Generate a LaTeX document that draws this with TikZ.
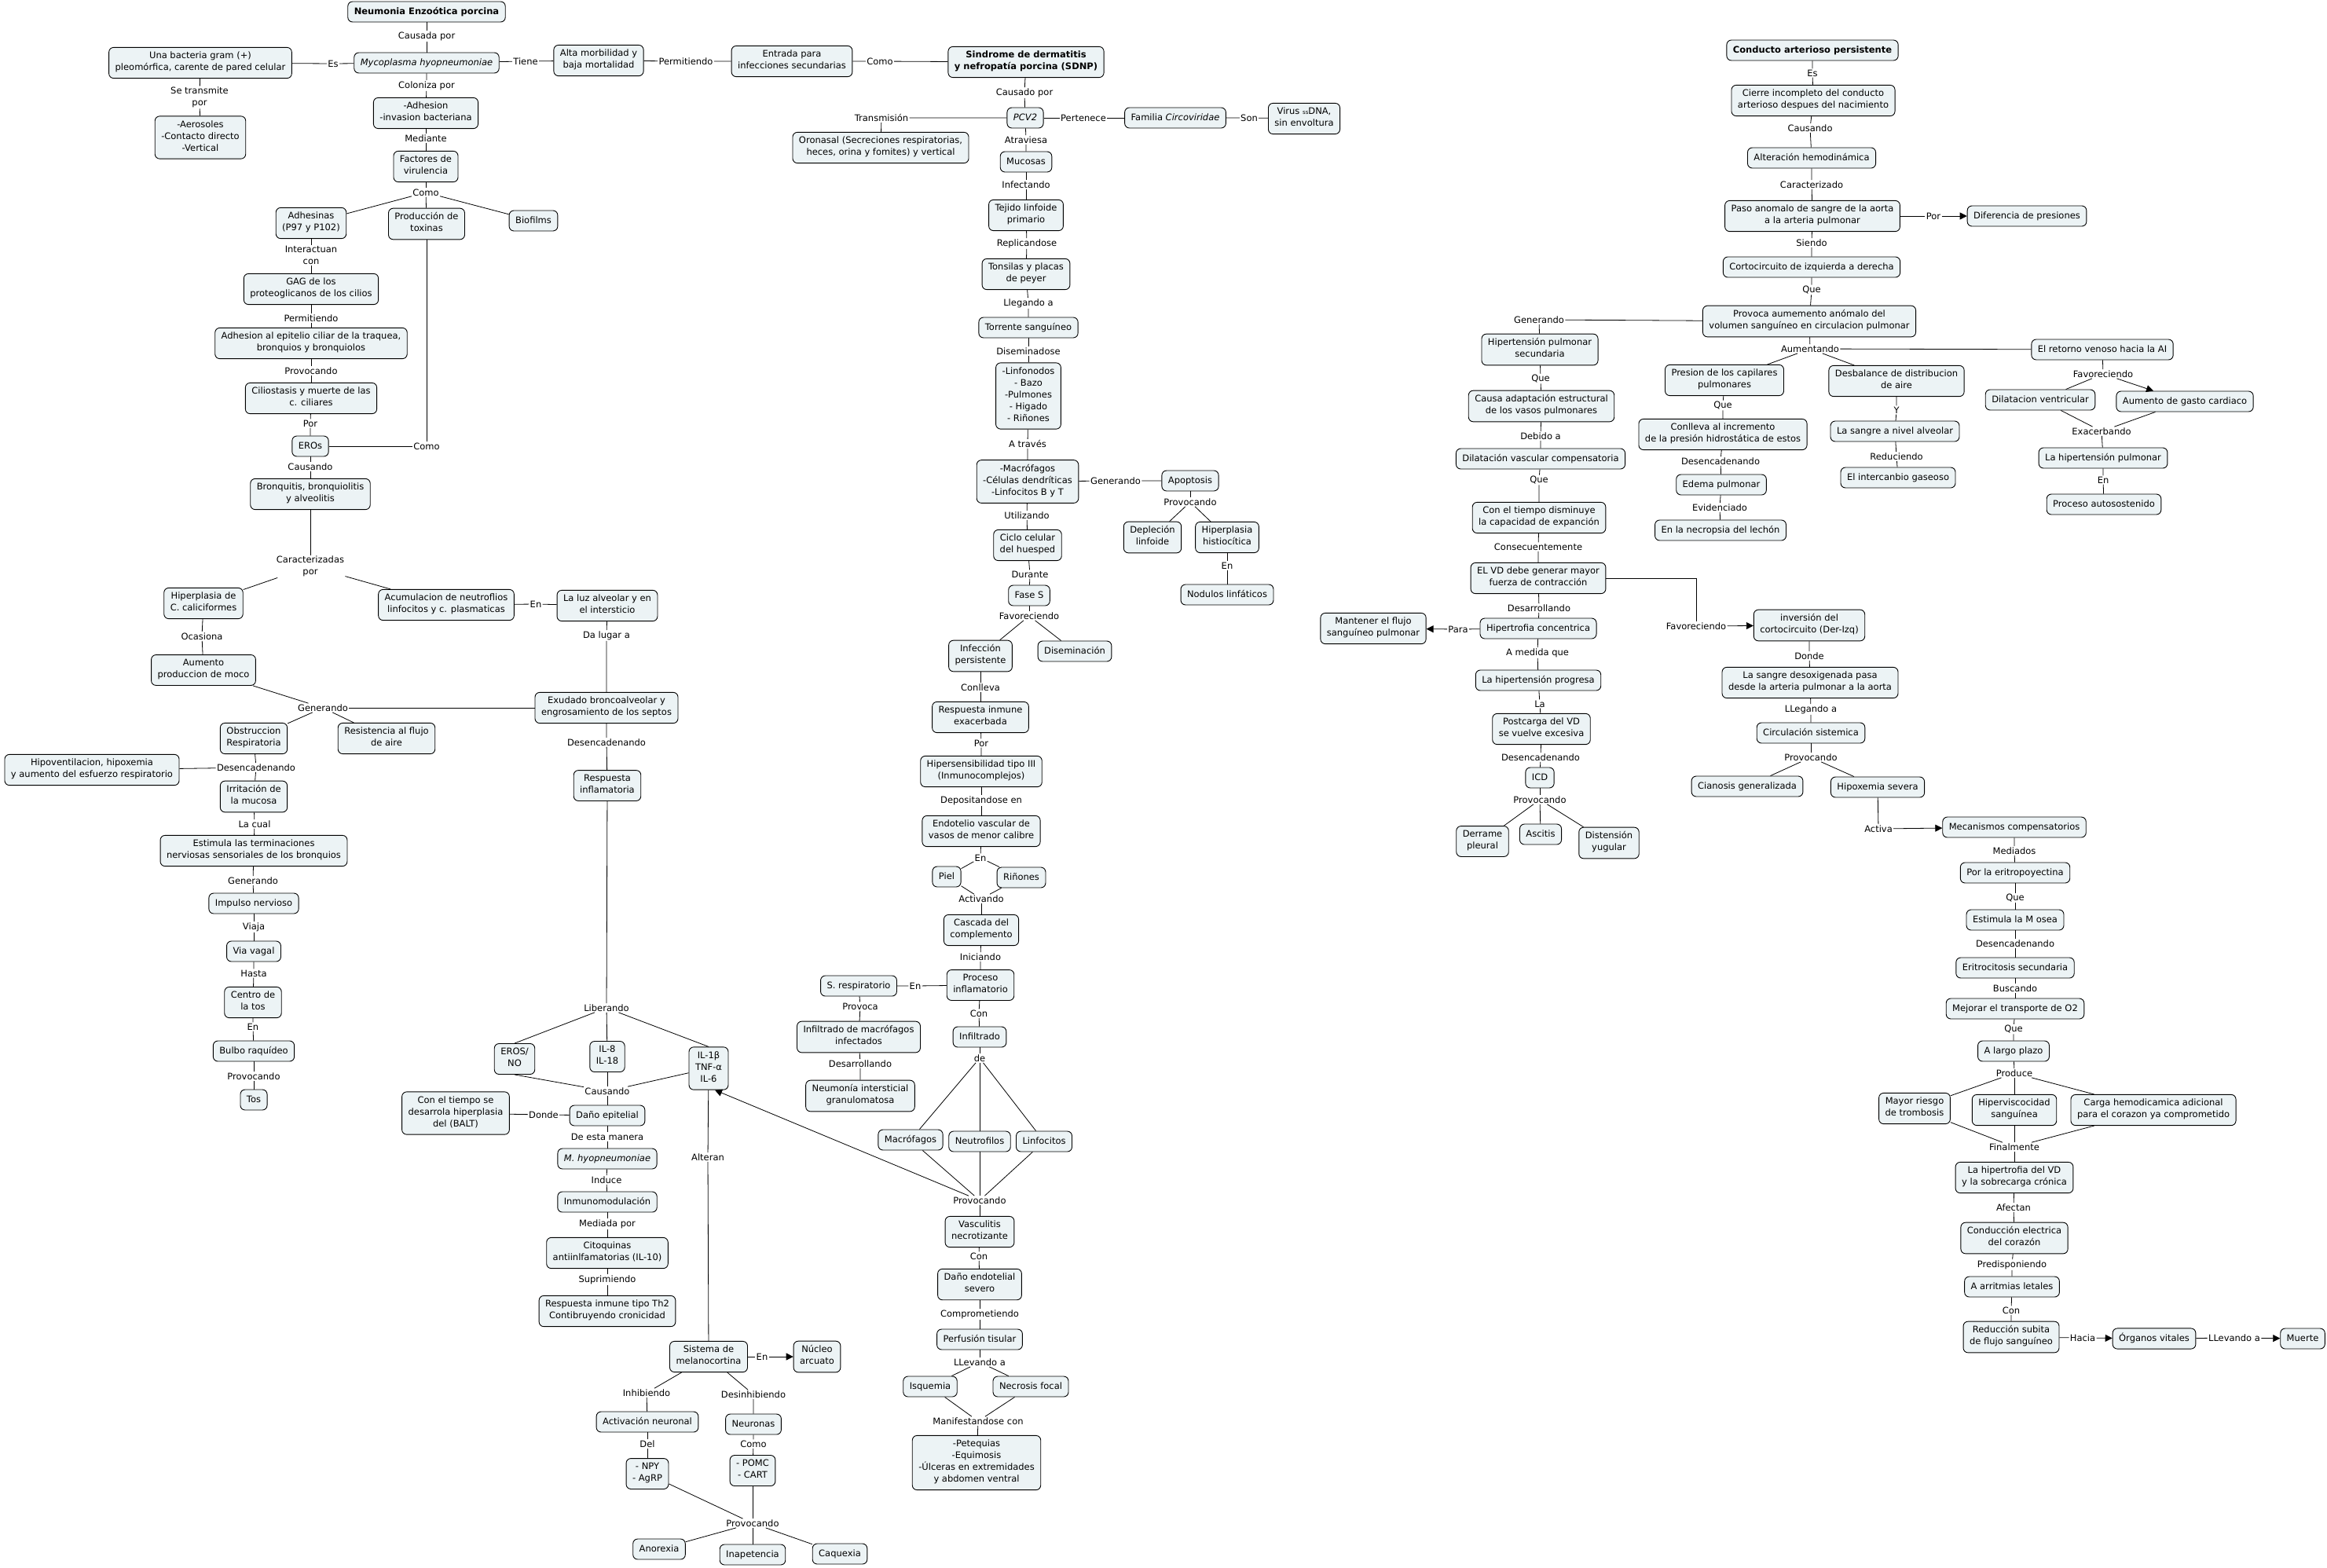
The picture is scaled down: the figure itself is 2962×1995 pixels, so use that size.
\documentclass[tikz,border=0pt]{standalone}
\usepackage{fontspec}
\setmainfont{DejaVu Sans}
\usetikzlibrary{arrows.meta}
\definecolor{cmfill}{RGB}{236,243,245}
\newcommand\cmsize{\fontsize{11.5}{15}\selectfont}

\begin{document}
\begin{tikzpicture}[x=1pt,y=-1pt,line width=0.8pt,
    cbox/.style={draw=black,line width=0.9pt,fill=cmfill,rounded corners=6pt,
      align=center,font=\cmsize,inner xsep=8pt,inner ysep=5.5pt,
      execute at begin node=\strut,execute at end node=\strut},
    ctitle/.style={cbox,font=\cmsize\bfseries},
    clink/.style={fill=white,align=center,font=\cmsize,inner sep=1pt},
    cmarrow/.style={-{Triangle[length=9pt,width=9pt]}}]
  \useasboundingbox (0,0) rectangle (2962,1995);

  \node[ctitle] (nep) at (543,15) {Neumonia Enzoótica porcina};
  \node[clink] (lcausada) at (543,46) {Causada por};
  \node[cbox] (myco) at (543,80) {\textit{Mycoplasma hyopneumoniae}};
  \node[clink] (les) at (424,81) {Es};
  \node[cbox] (bact) at (255,80) {Una bacteria gram (+)\\pleomórfica, carente de pared celular};
  \node[clink] (ltransm) at (254,124) {Se transmite\\por};
  \node[cbox] (aeros) at (255,175) {-Aerosoles\\-Contacto directo\\-Vertical};
  \node[clink] (ltiene) at (669,78) {Tiene};
  \node[cbox] (alta) at (762,77) {Alta morbilidad y\\baja mortalidad};
  \node[clink] (lpermit) at (873,78) {Permitiendo};
  \node[cbox] (entr) at (1008,78) {Entrada para\\infecciones secundarias};
  \node[clink] (lcomo1) at (1120,78) {Como};
  \node[clink] (lcoloniza) at (543,109) {Coloniza por};
  \node[cbox] (adh) at (542,144) {-Adhesion\\-invasion bacteriana};
  \node[clink] (lmediante) at (542,176) {Mediante};
  \node[cbox] (fact) at (542,212) {Factores de\\virulencia};
  \node[clink] (lcomo2) at (542,245) {Como};
  \node[cbox] (adhes) at (396,284) {Adhesinas\\(P97 y P102)};
  \node[cbox] (toxi) at (543,285) {Producción de\\toxinas};
  \node[cbox] (biof) at (679,281) {Biofilms};
  \node[clink] (linteract) at (396,325) {Interactuan\\con};
  \node[cbox] (gag) at (396,368) {GAG de los\\proteoglicanos de los cilios};
  \node[clink] (lpermit2) at (396,405) {Permitiendo};
  \node[cbox] (epit) at (396,437) {Adhesion al epitelio ciliar de la traquea,\\bronquios y bronquiolos};
  \node[clink] (lprov1) at (396,472) {Provocando};
  \node[cbox] (cilio) at (396,507) {Ciliostasis y muerte de las\\c. ciliares};
  \node[clink] (lpor1) at (395,539) {Por};
  \node[cbox] (eros1) at (395,568) {EROs};
  \node[clink] (lcomo3) at (543,568) {Como};
  \node[clink] (lcausa2) at (395,594) {Causando};
  \node[cbox] (bronq) at (395,629) {Bronquitis, bronquiolitis\\y alveolitis};
  \node[clink] (lcarac) at (395,721) {Caracterizadas\\por};
  \node[cbox] (hiperc) at (259,768) {Hiperplasia de\\C. caliciformes};
  \node[cbox] (acum) at (568,770) {Acumulacion de neutroflios\\linfocitos y c. plasmaticas};
  \node[clink] (len1) at (682,769) {En};
  \node[cbox] (luz) at (773,771) {La luz alveolar y en\\el intersticio};
  \node[clink] (ldalugar) at (772,809) {Da lugar a};
  \node[clink] (locasiona) at (257,810) {Ocasiona};
  \node[cbox] (moco) at (259,853) {Aumento\\produccion de moco};
  \node[clink] (lgen1) at (411,901) {Generando};
  \node[cbox] (obst) at (323,940) {Obstruccion\\Respiratoria};
  \node[cbox] (resis) at (492,940) {Resistencia al flujo\\de aire};
  \node[cbox] (exud) at (772,901) {Exudado broncoalveolar y\\engrosamiento de los septos};
  \node[clink] (ldesen1) at (326,977) {Desencadenando};
  \node[cbox] (hipov) at (117,980) {Hipoventilacion, hipoxemia\\y aumento del esfuerzo respiratorio};
  \node[cbox] (irrit) at (323,1014) {Irritación de\\la mucosa};
  \node[clink] (llacual) at (324,1049) {La cual};
  \node[cbox] (estim) at (323,1083) {Estimula las terminaciones\\nerviosas sensoriales de los bronquios};
  \node[clink] (lgen2) at (322,1121) {Generando};
  \node[cbox] (impul) at (323,1150) {Impulso nervioso};
  \node[clink] (lviaja) at (323,1180) {Viaja};
  \node[cbox] (vagal) at (323,1211) {Via vagal};
  \node[clink] (lhasta) at (323,1239) {Hasta};
  \node[cbox] (centro) at (322,1276) {Centro de\\la tos};
  \node[clink] (len2) at (322,1307) {En};
  \node[cbox] (bulbo) at (323,1338) {Bulbo raquídeo};
  \node[clink] (lprov2) at (323,1370) {Provocando};
  \node[cbox] (tos) at (323,1400) {Tos};
  \node[clink] (ldesen2) at (772,945) {Desencadenando};
  \node[cbox] (respinf) at (773,1000) {Respuesta\\inflamatoria};
  \node[clink] (llib) at (772,1283) {Liberando};
  \node[cbox] (erosno) at (655,1348) {EROS/\\NO};
  \node[cbox] (il8) at (773,1345) {IL-8\\IL-18};
  \node[cbox] (il1) at (902,1360) {IL-1β\\TNF-α\\IL-6};
  \node[clink] (lcaus3) at (773,1389) {Causando};
  \node[cbox] (danoep) at (773,1420) {Daño epitelial};
  \node[clink] (ldonde) at (692,1419) {Donde};
  \node[cbox] (balt) at (580,1417) {Con el tiempo se\\desarrola hiperplasia\\del (BALT)};
  \node[clink] (ldeesta) at (773,1447) {De esta manera};
  \node[cbox] (mhyo) at (773,1475) {\textit{M. hyopneumoniae}};
  \node[clink] (linduce) at (772,1502) {Induce};
  \node[cbox] (inmuno) at (773,1530) {Inmunomodulación};
  \node[clink] (lmedpor) at (773,1558) {Mediada por};
  \node[cbox] (citoq) at (773,1595) {Citoquinas\\antiinlfamatorias (IL-10)};
  \node[clink] (lsupr) at (773,1629) {Suprimiendo};
  \node[cbox] (th2) at (773,1669) {Respuesta inmune tipo Th2\\Contibruyendo cronicidad};
  \node[clink] (lalteran) at (901,1473) {Alteran};
  \node[cbox] (melano) at (902,1727) {Sistema de\\melanocortina};
  \node[clink] (len3) at (970,1727) {En};
  \node[cbox] (arcu) at (1040,1727) {Núcleo\\arcuato};
  \node[clink] (linhib) at (823,1773) {Inhibiendo};
  \node[clink] (ldesinh) at (959,1775) {Desinhibiendo};
  \node[cbox] (activ) at (824,1810) {Activación neuronal};
  \node[cbox] (neur) at (959,1813) {Neuronas};
  \node[clink] (ldel) at (824,1838) {Del};
  \node[clink] (lcomo4) at (959,1838) {Como};
  \node[cbox] (npy) at (824,1876) {- NPY\\- AgRP};
  \node[cbox] (pomc) at (958,1872) {- POMC\\- CART};
  \node[clink] (lprov3) at (958,1939) {Provocando};
  \node[cbox] (anor) at (839,1972) {Anorexia};
  \node[cbox] (inap) at (958,1979) {Inapetencia};
  \node[cbox] (caqu) at (1069,1978) {Caquexia};

  \node[ctitle] (sdnp) at (1306,79) {Sindrome de dermatitis\\y nefropatía porcina (SDNP)};
  \node[clink] (lcausado) at (1304,118) {Causado por};
  \node[cbox] (pcv2) at (1305,150) {\textit{PCV2}};
  \node[clink] (ltransm2) at (1122,150) {Transmisión};
  \node[cbox] (orona) at (1121,188) {Oronasal (Secreciones respiratorias,\\heces, orina y fomites) y vertical};
  \node[clink] (lpert) at (1379,150) {Pertenece};
  \node[cbox] (famil) at (1496,150) {Familia \textit{Circoviridae}};
  \node[clink] (lson) at (1590,150) {Son};
  \node[cbox] (virus) at (1660,151) {Virus {\fontsize{7}{8}\selectfont ss}DNA,\\sin envoltura};
  \node[clink] (latrav) at (1306,178) {Atraviesa};
  \node[cbox] (mucos) at (1306,206) {Mucosas};
  \node[clink] (linfect) at (1306,235) {Infectando};
  \node[cbox] (tejid) at (1306,274) {Tejido linfoide\\primario};
  \node[clink] (lreplic) at (1307,310) {Replicandose};
  \node[cbox] (tonsi) at (1306,349) {Tonsilas y placas\\de peyer};
  \node[clink] (lllegando) at (1309,386) {Llegando a};
  \node[cbox] (torre) at (1309,417) {Torrente sanguíneo};
  \node[clink] (ldisem) at (1309,447) {Diseminadose};
  \node[cbox] (linfo) at (1309,504) {-Linfonodos\\- Bazo\\-Pulmones\\- Higado\\- Riñones};
  \node[clink] (latraves) at (1308,565) {A través};
  \node[cbox] (macro) at (1308,613) {-Macrófagos\\-Células dendríticas\\-Linfocitos B y T};
  \node[clink] (lgen3) at (1420,612) {Generando};
  \node[cbox] (apopt) at (1515,612) {Apoptosis};
  \node[clink] (lprov4) at (1515,639) {Provocando};
  \node[cbox] (deple) at (1467,684) {Depleción\\linfoide};
  \node[cbox] (histi) at (1562,684) {Hiperplasia\\histiocítica};
  \node[clink] (len4) at (1562,720) {En};
  \node[cbox] (nodul) at (1562,757) {Nodulos linfáticos};
  \node[clink] (lutil) at (1307,656) {Utilizando};
  \node[cbox] (ciclo) at (1308,694) {Ciclo celular\\del huesped};
  \node[clink] (ldurante) at (1311,731) {Durante};
  \node[cbox] (fases) at (1310,758) {Fase S};
  \node[clink] (lfavo1) at (1310,784) {Favoreciendo};
  \node[cbox] (infper) at (1248,835) {Infección\\persistente};
  \node[cbox] (disem) at (1368,829) {Diseminación};
  \node[clink] (lconlleva) at (1248,875) {Conlleva};
  \node[cbox] (respex) at (1248,913) {Respuesta inmune\\exacerbada};
  \node[clink] (lpor2) at (1249,946) {Por};
  \node[cbox] (hipers) at (1249,982) {Hipersensibilidad tipo III\\(Inmunocomplejos)};
  \node[clink] (ldeposit) at (1249,1019) {Depositandose en};
  \node[cbox] (endot) at (1249,1058) {Endotelio vascular de\\vasos de menor calibre};
  \node[clink] (len5) at (1248,1092) {En};
  \node[cbox] (piel) at (1205,1116) {Piel};
  \node[cbox] (rinon) at (1300,1117) {Riñones};
  \node[clink] (lactiv) at (1249,1144) {Activando};
  \node[cbox] (casca) at (1249,1184) {Cascada del\\complemento};
  \node[clink] (linicia) at (1248,1218) {Iniciando};
  \node[cbox] (procinf) at (1248,1254) {Proceso\\inflamatorio};
  \node[clink] (len6) at (1165,1255) {En};
  \node[cbox] (sresp) at (1093,1255) {S. respiratorio};
  \node[clink] (lprovoca) at (1095,1281) {Provoca};
  \node[cbox] (infmac) at (1093,1320) {Infiltrado de macrófagos\\infectados};
  \node[clink] (ldesarr) at (1095,1354) {Desarrollando};
  \node[cbox] (neuint) at (1095,1395) {Neumonía intersticial\\granulomatosa};
  \node[clink] (lcon1) at (1246,1290) {Con};
  \node[cbox] (infil) at (1247,1320) {Infiltrado};
  \node[clink] (lde) at (1247,1347) {de};
  \node[cbox] (macf) at (1159,1451) {Macrófagos};
  \node[cbox] (neutr) at (1247,1453) {Neutrofilos};
  \node[cbox] (linfc) at (1329,1453) {Linfocitos};
  \node[clink] (lprov5) at (1247,1528) {Provocando};
  \node[cbox] (vascu) at (1247,1568) {Vasculitis\\necrotizante};
  \node[clink] (lcon2) at (1246,1599) {Con};
  \node[cbox] (danoen) at (1247,1635) {Daño endotelial\\severo};
  \node[clink] (lcompr) at (1247,1673) {Comprometiendo};
  \node[cbox] (perfu) at (1247,1705) {Perfusión tisular};
  \node[clink] (lllevando) at (1247,1734) {LLevando a};
  \node[cbox] (isque) at (1184,1765) {Isquemia};
  \node[cbox] (necro) at (1312,1765) {Necrosis focal};
  \node[clink] (lmanif) at (1245,1809) {Manifestandose con};
  \node[cbox] (petequ) at (1243,1862) {-Petequias\\-Equimosis\\-Úlceras en extremidades\\y abdomen ventral};

  \node[ctitle] (cap) at (2307,64) {Conducto arterioso persistente};
  \node[clink] (les2) at (2307,93) {Es};
  \node[cbox] (cierre) at (2308,128) {Cierre incompleto del conducto\\arterioso despues del nacimiento};
  \node[clink] (lcaus4) at (2304,163) {Causando};
  \node[cbox] (alter) at (2306,201) {Alteración hemodinámica};
  \node[clink] (lcarac2) at (2306,235) {Caracterizado};
  \node[cbox] (paso) at (2307,275) {Paso anomalo de sangre de la aorta\\a la arteria pulmonar};
  \node[clink] (lpor3) at (2461,275) {Por};
  \node[cbox] (difer) at (2580,275) {Diferencia de presiones};
  \node[clink] (lsiendo) at (2306,309) {Siendo};
  \node[cbox] (corto) at (2306,340) {Cortocircuito de izquierda a derecha};
  \node[clink] (lque1) at (2306,369) {Que};
  \node[cbox] (provo) at (2303,409) {Provoca aumemento anómalo del\\volumen sanguíneo en circulacion pulmonar};
  \node[clink] (lgen4) at (1959,407) {Generando};
  \node[clink] (laum) at (2304,444) {Aumentando};
  \node[cbox] (hipsec) at (1960,445) {Hipertensión pulmonar\\secundaria};
  \node[clink] (lque2) at (1961,482) {Que};
  \node[cbox] (adapt) at (1962,517) {Causa adaptación estructural\\de los vasos pulmonares};
  \node[clink] (ldebido) at (1961,555) {Debido a};
  \node[cbox] (dilat) at (1961,584) {Dilatación vascular compensatoria};
  \node[clink] (lque3) at (1959,611) {Que};
  \node[cbox] (capac) at (1959,659) {Con el tiempo disminuye\\la capacidad de expanción};
  \node[clink] (lconsec) at (1958,696) {Consecuentemente};
  \node[cbox] (elvd) at (1958,736) {EL VD debe generar mayor\\fuerza de contracción};
  \node[clink] (ldesarr2) at (1959,774) {Desarrollando};
  \node[cbox] (hipconc) at (1958,800) {Hipertrofia concentrica};
  \node[clink] (lpara) at (1856,801) {Para};
  \node[cbox] (mante) at (1748,800) {Mantener el flujo\\sanguíneo pulmonar};
  \node[clink] (lamed) at (1957,831) {A medida que};
  \node[cbox] (hipprog) at (1958,866) {La hipertensión progresa};
  \node[clink] (lla) at (1960,896) {La};
  \node[cbox] (postc) at (1962,928) {Postcarga del VD\\se vuelve excesiva};
  \node[clink] (ldesen3) at (1961,964) {Desencadenando};
  \node[cbox] (icd) at (1960,990) {ICD};
  \node[clink] (lprov6) at (1960,1018) {Provocando};
  \node[cbox] (derra) at (1887,1071) {Derrame\\pleural};
  \node[cbox] (ascit) at (1961,1062) {Ascitis};
  \node[cbox] (disten) at (2048,1073) {Distensión\\yugular};
  \node[clink] (lfavo2) at (2159,797) {Favoreciendo};
  \node[cbox] (inver) at (2303,796) {inversión del\\cortocircuito (Der-Izq)};
  \node[clink] (ldonde2) at (2303,835) {Donde};
  \node[cbox] (sangdes) at (2304,869) {La sangre desoxigenada pasa\\desde la arteria pulmonar a la aorta};
  \node[clink] (lllegando2) at (2305,903) {LLegando a};
  \node[cbox] (circ) at (2305,933) {Circulación sistemica};
  \node[clink] (lprov7) at (2305,964) {Provocando};
  \node[cbox] (cianos) at (2224,1001) {Cianosis generalizada};
  \node[cbox] (hipox) at (2390,1002) {Hipoxemia severa};
  \node[clink] (lactiva) at (2391,1055) {Activa};
  \node[cbox] (mecan) at (2564,1053) {Mecanismos compensatorios};
  \node[clink] (lmediad) at (2564,1083) {Mediados};
  \node[cbox] (eritro) at (2565,1111) {Por la eritropoyectina};
  \node[clink] (lque4) at (2565,1143) {Que};
  \node[cbox] (mosea) at (2565,1171) {Estimula la M osea};
  \node[clink] (ldesen4) at (2565,1201) {Desencadenando};
  \node[cbox] (eritrc) at (2565,1232) {Eritrocitosis secundaria};
  \node[clink] (lbusc) at (2565,1258) {Buscando};
  \node[cbox] (mejor) at (2565,1284) {Mejorar el transporte de O2};
  \node[clink] (lque5) at (2563,1310) {Que};
  \node[cbox] (largo) at (2563,1338) {A largo plazo};
  \node[clink] (lproduce) at (2564,1366) {Produce};
  \node[cbox] (trombo) at (2437,1411) {Mayor riesgo\\de trombosis};
  \node[cbox] (hipvis) at (2564,1413) {Hiperviscocidad\\sanguínea};
  \node[cbox] (carga) at (2741,1413) {Carga hemodicamica adicional\\para el corazon ya comprometido};
  \node[clink] (lfinal) at (2564,1460) {Finalmente};
  \node[cbox] (hipvd) at (2564,1499) {La hipertrofia del VD\\y la sobrecarga crónica};
  \node[clink] (lafect) at (2563,1537) {Afectan};
  \node[cbox] (conduc) at (2564,1576) {Conducción electrica\\del corazón};
  \node[clink] (lpredis) at (2561,1610) {Predisponiendo};
  \node[cbox] (arrit) at (2561,1638) {A arritmias letales};
  \node[clink] (lcon3) at (2560,1668) {Con};
  \node[cbox] (reduc) at (2560,1702) {Reducción subita\\de flujo sanguíneo};
  \node[clink] (lhacia) at (2651,1703) {Hacia};
  \node[cbox] (organ) at (2742,1704) {Órganos vitales};
  \node[clink] (lllevando2) at (2844,1703) {LLevando a};
  \node[cbox] (muert) at (2931,1704) {Muerte};
  \node[cbox] (presc) at (2195,484) {Presion de los capilares\\pulmonares};
  \node[clink] (lque6) at (2193,516) {Que};
  \node[cbox] (conlle) at (2193,553) {Conlleva al incremento\\de la presión hidrostática de estos};
  \node[clink] (ldesen5) at (2190,587) {Desencadenando};
  \node[cbox] (edema) at (2191,617) {Edema pulmonar};
  \node[clink] (levid) at (2189,646) {Evidenciado};
  \node[cbox] (necrop) at (2190,675) {En la necropsia del lechón};
  \node[cbox] (desbal) at (2414,485) {Desbalance de distribucion\\de aire};
  \node[clink] (ly) at (2414,522) {Y};
  \node[cbox] (sangalv) at (2412,549) {La sangre a nivel alveolar};
  \node[clink] (lreduc) at (2414,581) {Reduciendo};
  \node[cbox] (interc) at (2416,608) {El intercanbio gaseoso};
  \node[cbox] (retor) at (2676,445) {El retorno venoso hacia la AI};
  \node[clink] (lfavo3) at (2677,476) {Favoreciendo};
  \node[cbox] (dilven) at (2597,509) {Dilatacion ventricular};
  \node[cbox] (aumgas) at (2781,511) {Aumento de gasto cardiaco};
  \node[clink] (lexac) at (2675,549) {Exacerbando};
  \node[cbox] (hippul) at (2677,583) {La hipertensión pulmonar};
  \node[clink] (len7) at (2677,611) {En};
  \node[cbox] (autos) at (2678,642) {Proceso autosostenido};

  \foreach \a/\b/\c in {nep/lcausada/myco, myco/les/bact, bact/ltransm/aeros,
      myco/ltiene/alta, alta/lpermit/entr, entr/lcomo1/sdnp, myco/lcoloniza/adh,
      adh/lmediante/fact, adhes/linteract/gag, gag/lpermit2/epit, epit/lprov1/cilio,
      cilio/lpor1/eros1, toxi/lcomo3/eros1, eros1/lcausa2/bronq, acum/len1/luz,
      luz/ldalugar/exud, hiperc/locasiona/moco, obst/ldesen1/irrit, irrit/llacual/estim,
      estim/lgen2/impul, impul/lviaja/vagal, vagal/lhasta/centro, centro/len2/bulbo,
      bulbo/lprov2/tos, exud/ldesen2/respinf, danoep/ldonde/balt, danoep/ldeesta/mhyo,
      mhyo/linduce/inmuno, inmuno/lmedpor/citoq, citoq/lsupr/th2, melano/lalteran/il1,
      melano/linhib/activ, melano/ldesinh/neur, activ/ldel/npy, neur/lcomo4/pomc}
    \draw (\a) -- (\b) -- (\c);
  \foreach \a/\b/\c in {sdnp/lcausado/pcv2, pcv2/ltransm2/orona, pcv2/lpert/famil,
      famil/lson/virus, pcv2/latrav/mucos, mucos/linfect/tejid, tejid/lreplic/tonsi,
      tonsi/lllegando/torre, torre/ldisem/linfo, linfo/latraves/macro,
      macro/lgen3/apopt, macro/lutil/ciclo, ciclo/ldurante/fases, histi/len4/nodul,
      infper/lconlleva/respex, respex/lpor2/hipers, hipers/ldeposit/endot,
      casca/linicia/procinf, procinf/len6/sresp, sresp/lprovoca/infmac,
      infmac/ldesarr/neuint, procinf/lcon1/infil, vascu/lcon2/danoen,
      danoen/lcompr/perfu}
    \draw (\a) -- (\b) -- (\c);
  \foreach \a/\b/\c in {cap/les2/cierre, cierre/lcaus4/alter, alter/lcarac2/paso,
      paso/lsiendo/corto, corto/lque1/provo, provo/lgen4/hipsec, hipsec/lque2/adapt,
      adapt/ldebido/dilat, dilat/lque3/capac, capac/lconsec/elvd, elvd/ldesarr2/hipconc,
      hipconc/lamed/hipprog, hipprog/lla/postc, postc/ldesen3/icd,
      inver/ldonde2/sangdes, sangdes/lllegando2/circ, mecan/lmediad/eritro,
      eritro/lque4/mosea, mosea/ldesen4/eritrc, eritrc/lbusc/mejor, mejor/lque5/largo,
      hipvd/lafect/conduc, conduc/lpredis/arrit, arrit/lcon3/reduc,
      presc/lque6/conlle, conlle/ldesen5/edema, edema/levid/necrop,
      desbal/ly/sangalv, sangalv/lreduc/interc, hippul/len7/autos}
    \draw (\a) -- (\b) -- (\c);

  \draw (fact) -- (lcomo2);
  \foreach \t in {adhes,toxi,biof} \draw (lcomo2) -- (\t);
  \draw (bronq) -- (lcarac);
  \foreach \t in {hiperc,acum} \draw (lcarac) -- (\t);
  \foreach \t in {moco,exud,obst,resis} \draw (lgen1) -- (\t);
  \draw (ldesen1) -- (hipov);
  \draw (respinf) -- (llib);
  \foreach \t in {erosno.north,il8,il1.north} \draw (llib) -- (\t);
  \foreach \t in {erosno.south,il8,il1,danoep} \draw (lcaus3) -- (\t);
  \draw[cmarrow] (melano) -- (len3) -- (arcu);
  \foreach \t in {npy,pomc,anor,inap,caqu} \draw (lprov3) -- (\t);

  \draw (apopt) -- (lprov4);
  \foreach \t in {deple,histi} \draw (lprov4) -- (\t);
  \draw (fases) -- (lfavo1);
  \foreach \t in {infper,disem} \draw (lfavo1) -- (\t);
  \draw (endot) -- (len5);
  \foreach \t in {piel,rinon} \draw (len5) -- (\t) -- (lactiv);
  \draw (lactiv) -- (casca);
  \draw (infil) -- (lde);
  \foreach \t in {macf,neutr,linfc} \draw (lde) -- (\t) -- (lprov5);
  \draw (lprov5) -- (vascu);
  \draw[cmarrow] (lprov5) -- ([xshift=8pt]il1.south);
  \draw (perfu) -- (lllevando);
  \foreach \t in {isque,necro} \draw (lllevando) -- (\t) -- (lmanif);
  \draw (lmanif) -- (petequ);

  \draw[cmarrow] (paso) -- (lpor3) -- (difer);
  \draw (provo) -- (laum);
  \foreach \t in {presc,desbal,retor} \draw (laum) -- (\t);
  \draw (retor) -- (lfavo3) -- (dilven);
  \draw[cmarrow] (lfavo3) -- (aumgas);
  \foreach \t in {dilven,aumgas} \draw (\t) -- (lexac);
  \draw (lexac) -- (hippul);
  \draw[cmarrow] (hipconc) -- (lpara) -- (mante);
  \draw (icd) -- (lprov6);
  \foreach \t in {derra,ascit,disten} \draw (lprov6) -- (\t);
  \draw (elvd.east) -| (lfavo2);
  \draw[cmarrow] (lfavo2) -- (inver);
  \draw (circ) -- (lprov7);
  \foreach \t in {cianos,hipox} \draw (lprov7) -- (\t);
  \draw (hipox) -- (lactiva);
  \draw[cmarrow] (lactiva) -- (mecan);
  \draw (largo) -- (lproduce);
  \foreach \t in {trombo,hipvis,carga} \draw (lproduce) -- (\t) -- (lfinal);
  \draw (lfinal) -- (hipvd);
  \draw[cmarrow] (reduc) -- (lhacia) -- (organ);
  \draw[cmarrow] (organ) -- (lllevando2) -- (muert);
\end{tikzpicture}
\end{document}
